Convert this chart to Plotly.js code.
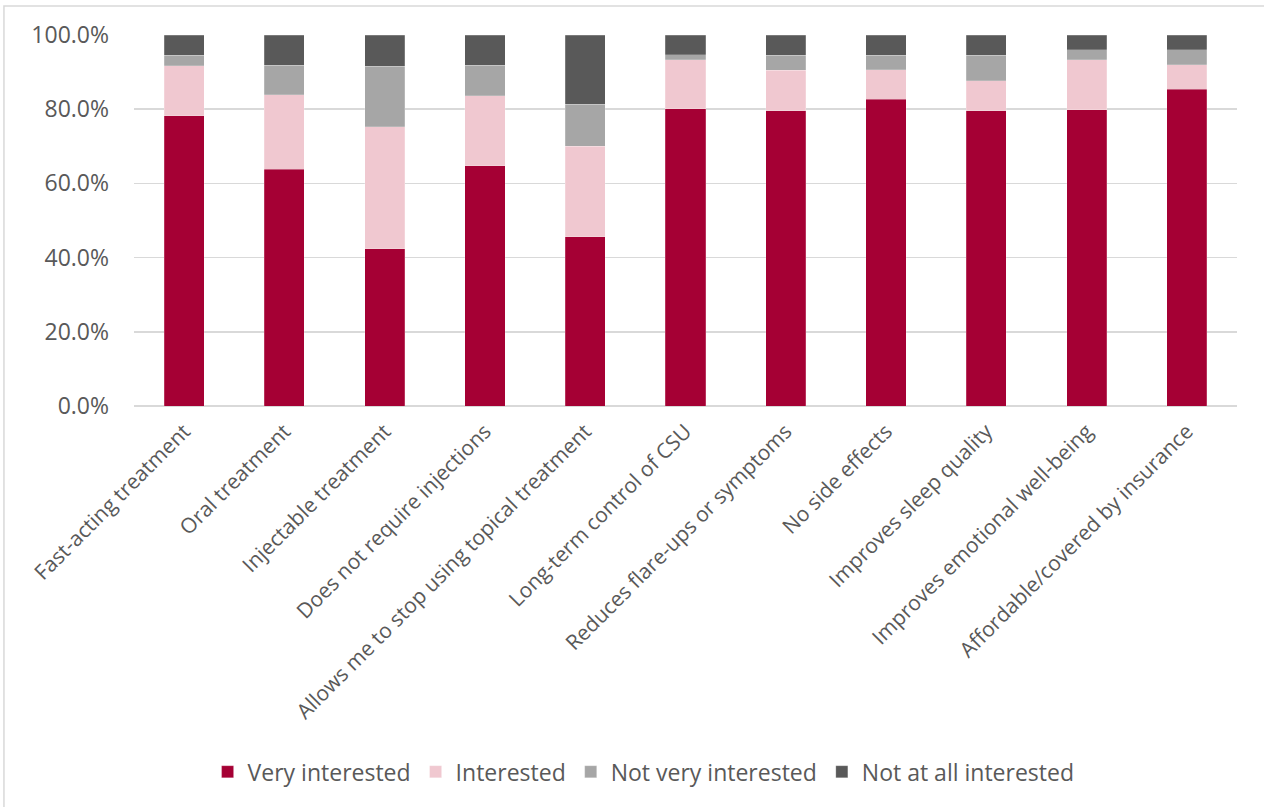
<!DOCTYPE html>
<html>
<head>
<meta charset="utf-8">
<script src="https://cdn.plot.ly/plotly-3.0.1.min.js"></script>
<style>html,body{margin:0;padding:0;background:#fff;}#chart{width:1264px;height:807px;}</style>
</head>
<body>
<div id="chart"></div>
<script>
const categories = [
  "Fast-acting treatment",
  "Oral treatment",
  "Injectable treatment",
  "Does not require injections",
  "Allows me to stop using topical treatment",
  "Long-term control of CSU",
  "Reduces flare-ups or symptoms",
  "No side effects",
  "Improves sleep quality",
  "Improves emotional well-being",
  "Affordable/covered by insurance"
];
const veryInterested   = [78.2, 63.8, 42.4, 64.7, 45.6, 80.1, 79.6, 82.7, 79.6, 79.9, 85.4];
const interested       = [13.5, 20.1, 32.9, 18.9, 24.4, 13.2, 10.9,  8.0,  8.1, 13.4,  6.6];
const notVeryInterested= [ 2.9,  8.0, 16.3,  8.2, 11.4,  1.4,  4.1,  3.9,  6.9,  2.7,  4.0];
const notAtAll         = [ 5.4,  8.1,  8.4,  8.2, 18.6,  5.3,  5.4,  5.4,  5.4,  4.0,  4.0];
const seriesNames = ["Very interested", "Interested", "Not very interested", "Not at all interested"];
const seriesColors = ["#A50034", "#F0C8D0", "#A6A6A6", "#595959"];
const seriesValues = [veryInterested, interested, notVeryInterested, notAtAll];

const traces = seriesValues.map((vals, i) => ({
  type: "bar",
  name: seriesNames[i],
  x: categories,
  y: vals,
  marker: {color: seriesColors[i], line: {color: "rgba(255,255,255,0.4)", width: 0.5}},
  hoverinfo: "x+y+name"
}));

const font = "'Open Sans', 'Noto Sans', sans-serif";
const layout = {
  width: 1264, height: 807,
  barmode: "stack",
  bargap: 0.6,
  showlegend: true,
  paper_bgcolor: "#ffffff",
  plot_bgcolor: "#ffffff",
  margin: {l: 134, r: 27, t: 35, b: 401},
  font: {family: font, color: "#595959", size: 20},
  xaxis: {
    tickangle: -45,
    tickfont: {family: font, size: 21, color: "#595959"},
    ticklabelstandoff: 8,
    showgrid: false,
    showline: false,
    zeroline: false,
    ticks: "",
    automargin: false
  },
  yaxis: {
    range: [0, 100],
    tickvals: [0, 20, 40, 60, 80, 100],
    ticktext: ["0.0%", "20.0%", "40.0%", "60.0%", "80.0%", "100.0%"],
    tickfont: {family: font, size: 23, color: "#595959"},
    ticklabelstandoff: 24,
    showgrid: true,
    gridcolor: "#D9D9D9",
    gridwidth: 1.5,
    zeroline: true,
    zerolinecolor: "#D9D9D9",
    zerolinewidth: 1.5,
    showline: false,
    ticks: "",
    ticklen: 0,
    automargin: false
  },
  legend: {
    orientation: "h",
    x: 0.462, xanchor: "center",
    y: -0.986, yanchor: "middle",
    font: {family: font, size: 23, color: "#595959"},
    traceorder: "normal",
    itemwidth: 30
  },
  shapes: [{
    type: "rect", xref: "paper", yref: "paper",
    x0: -0.1179, x1: 1.04, y0: -1.1, y1: 1.078,
    line: {color: "#D9D9D9", width: 1.5},
    fillcolor: "rgba(0,0,0,0)",
    layer: "below"
  }]
};

Plotly.newPlot("chart", traces, layout, {displayModeBar: false, staticPlot: true});
</script>
</body>
</html>
